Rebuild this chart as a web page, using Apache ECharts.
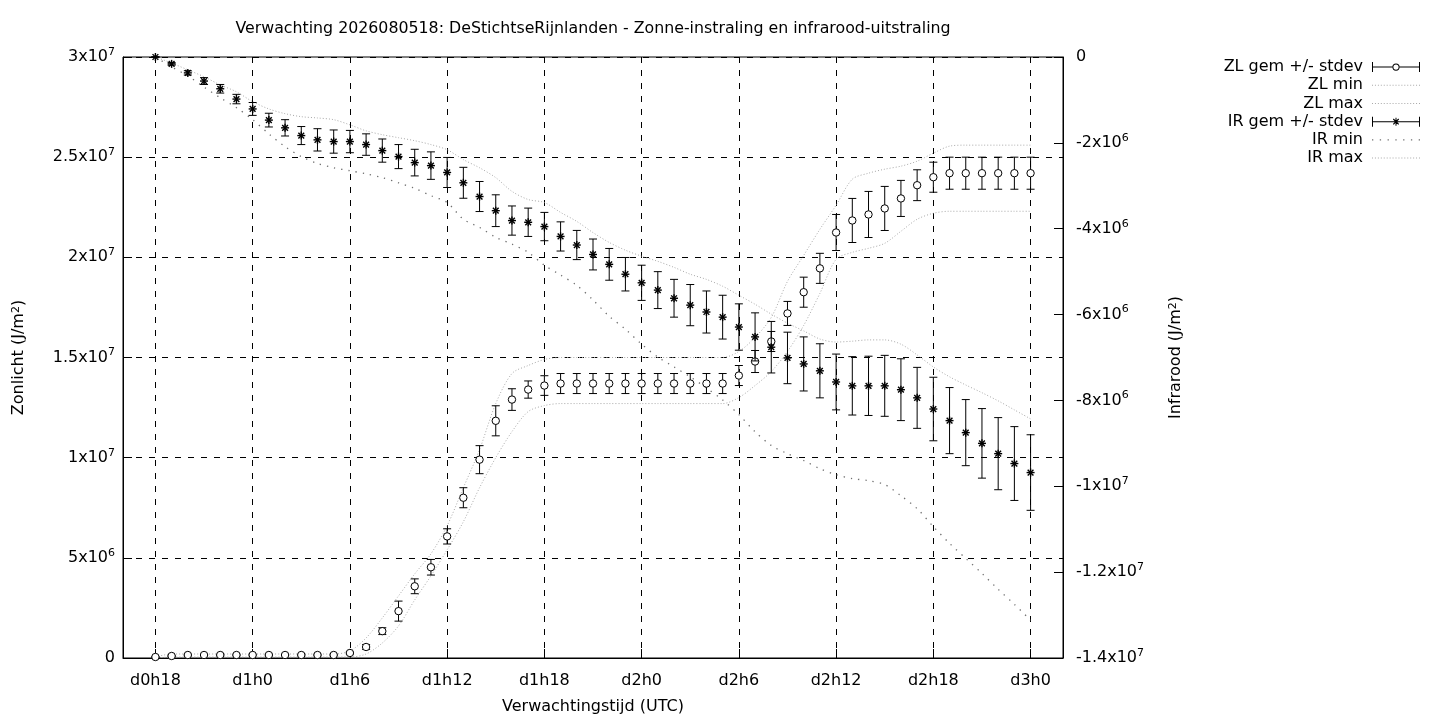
<!DOCTYPE html>
<html>
<head>
<meta charset="utf-8">
<title>Zonne-instraling en infrarood-uitstraling</title>
<script src="https://cdn.jsdelivr.net/npm/echarts@6.0.0/dist/echarts.min.js"></script>
<style>
  html, body { margin: 0; padding: 0; background: #fff; }
  #main { width: 1440px; height: 720px; }
</style>
</head>
<body>
<div id="main"></div>
<script>
// Forecast run 2026080518, hourly values; axis values are in units of 1e6 J/m2
const hours = [
  "d0h16", "d0h17", "d0h18", "d0h19", "d0h20", "d0h21", "d0h22", "d0h23",
  "d1h0", "d1h1", "d1h2", "d1h3", "d1h4", "d1h5", "d1h6", "d1h7", "d1h8", "d1h9", "d1h10", "d1h11",
  "d1h12", "d1h13", "d1h14", "d1h15", "d1h16", "d1h17", "d1h18", "d1h19", "d1h20", "d1h21", "d1h22", "d1h23",
  "d2h0", "d2h1", "d2h2", "d2h3", "d2h4", "d2h5", "d2h6", "d2h7", "d2h8", "d2h9", "d2h10", "d2h11",
  "d2h12", "d2h13", "d2h14", "d2h15", "d2h16", "d2h17", "d2h18", "d2h19", "d2h20", "d2h21", "d2h22", "d2h23",
  "d3h0", "d3h1", "d3h2",
];
const firstHour = "d0h18"; // first forecast step

// Zonlicht (left axis)
const zlMean = [
  0.05, 0.1, 0.15, 0.15, 0.15, 0.15, 0.15, 0.15, 0.15, 0.15, 0.15, 0.15,
  0.25, 0.55, 1.34, 2.34, 3.58, 4.53, 6.07, 8.0, 9.9, 11.84, 12.9, 13.4, 13.6, 13.7,
  13.7, 13.7, 13.7, 13.7, 13.7, 13.7, 13.7, 13.7, 13.7, 13.7,
  14.1, 14.8, 15.8, 17.2, 18.26, 19.45, 21.24, 21.84, 22.14, 22.44, 22.94, 23.6, 24.0,
  24.2, 24.2, 24.2, 24.2, 24.2, 24.2,
];
const zlSd = [
  0.02, 0.03, 0.04, 0.04, 0.04, 0.04, 0.04, 0.04, 0.04, 0.04, 0.04, 0.04,
  0.06, 0.12, 0.17, 0.5, 0.37, 0.39, 0.38, 0.5, 0.7, 0.75, 0.54, 0.43, 0.49, 0.5,
  0.5, 0.5, 0.5, 0.5, 0.5, 0.5, 0.5, 0.5, 0.5, 0.5,
  0.5, 0.55, 0.5, 0.6, 0.75, 0.75, 0.9, 1.1, 1.15, 1.1, 0.9, 0.77, 0.75,
  0.8, 0.8, 0.8, 0.8, 0.8, 0.8,
];
const zlMin = [
  0.0, 0.05, 0.05, 0.05, 0.05, 0.05, 0.05, 0.05, 0.05, 0.05, 0.05, 0.05,
  0.05, 0.2, 0.75, 1.6, 2.9, 4.1, 5.4, 6.8, 8.5, 10.0, 11.3, 12.3, 12.6, 12.7,
  12.7, 12.7, 12.7, 12.7, 12.7, 12.7, 12.7, 12.7, 12.7, 12.7,
  13.0, 13.6, 14.3, 15.3, 16.6, 18.2, 19.9, 20.25, 20.45, 20.7, 21.3, 21.9, 22.2,
  22.3, 22.3, 22.3, 22.3, 22.3, 22.3,
];
const zlMax = [
  0.05, 0.2, 0.2, 0.2, 0.2, 0.2, 0.2, 0.2, 0.2, 0.2, 0.2, 0.2,
  0.35, 1.0, 2.0, 3.1, 4.2, 5.2, 6.6, 8.5, 10.4, 12.7, 14.2, 14.6, 14.9, 15.0,
  15.0, 15.0, 15.0, 15.0, 15.0, 15.0, 15.0, 15.0, 15.0, 15.0,
  15.3, 16.0, 17.0, 18.8, 20.1, 21.4, 22.6, 23.9, 24.2, 24.4, 24.55, 24.8, 25.2,
  25.55, 25.6, 25.6, 25.6, 25.6, 25.6,
];

// Infrarood (right axis)
const irMean = [
  0, -0.16, -0.37, -0.56, -0.74, -0.98, -1.21, -1.47, -1.65, -1.83, -1.93, -1.97,
  -1.97, -2.04, -2.18, -2.32, -2.46, -2.53, -2.69, -2.93, -3.25, -3.58, -3.81, -3.85,
  -3.95, -4.18, -4.38, -4.6, -4.83, -5.06, -5.26, -5.43, -5.62, -5.78, -5.94, -6.06,
  -6.29, -6.52, -6.76, -7.01, -7.15, -7.31, -7.57, -7.66, -7.66, -7.66, -7.75, -7.94,
  -8.2, -8.47, -8.75, -9.0, -9.24, -9.47, -9.68,
];
const irSd = [
  0, 0.03, 0.05, 0.08, 0.1, 0.11, 0.15, 0.16, 0.19, 0.21, 0.26, 0.27,
  0.26, 0.25, 0.27, 0.28, 0.31, 0.32, 0.35, 0.36, 0.35, 0.37, 0.34, 0.33,
  0.33, 0.34, 0.34, 0.36, 0.37, 0.39, 0.41, 0.43, 0.44, 0.48, 0.49, 0.51,
  0.54, 0.56, 0.6, 0.6, 0.63, 0.63, 0.65, 0.68, 0.69, 0.71, 0.72, 0.71,
  0.74, 0.77, 0.77, 0.81, 0.84, 0.86, 0.88,
];
const irMin = [
  0, -0.23, -0.44, -0.7, -0.95, -1.18, -1.46, -1.79, -2.09, -2.32, -2.48, -2.58,
  -2.65, -2.72, -2.81, -2.93, -3.06, -3.23, -3.39, -3.78, -3.97, -4.2, -4.36, -4.55,
  -4.85, -5.08, -5.32, -5.66, -6.04, -6.34, -6.69, -6.99, -7.22, -7.45, -7.71, -7.99,
  -8.33, -8.73, -9.05, -9.24, -9.4, -9.59, -9.73, -9.82, -9.87, -9.96, -10.22, -10.52,
  -10.94, -11.33, -11.68, -12.03, -12.4, -12.75, -13.12,
];
const irMax = [
  0, -0.14, -0.3, -0.46, -0.65, -0.81, -1.04, -1.21, -1.32, -1.39, -1.42, -1.46,
  -1.58, -1.72, -1.81, -1.88, -1.95, -2.04, -2.16, -2.39, -2.58, -2.81, -3.13, -3.32,
  -3.39, -3.62, -3.83, -4.09, -4.32, -4.5, -4.64, -4.76, -4.9, -5.06, -5.18, -5.34,
  -5.55, -5.76, -5.99, -6.2, -6.38, -6.57, -6.64, -6.62, -6.59, -6.59, -6.69, -6.94,
  -7.22, -7.45, -7.64, -7.82, -8.01, -8.22, -8.43,
];

const FONT = "DejaVu Sans";
const FS = 16;
const LIGHT = "#a9a9a9";
const DARK = "#6f6f6f";
const offset = hours.indexOf(firstHour);

function withHour(values) {
  return values.map((v, i) => [i + offset, v]);
}
function withSd(means, sds) {
  return means.map((m, i) => [i + offset, m, sds[i]]);
}

// "3x10^7" style labels, values are in 1e6 units
function sci(v) {
  if (Math.abs(v) < 1e-9) return "{b|0}";
  const val = v * 1e6;
  const exp = Math.floor(Math.log10(Math.abs(val)) + 1e-9);
  const mant = +(val / Math.pow(10, exp)).toFixed(2);
  return "{b|" + mant + "x10}{s|" + exp + "}";
}
const supStyle = { fontFamily: FONT, fontSize: 11, color: "#000", verticalAlign: "top", lineHeight: 11 };
const sciRich = {
  b: { fontFamily: FONT, fontSize: FS, color: "#000", lineHeight: 21 },
  s: supStyle,
};

// show labels, ticks and grid every 6 hours starting at d0h18
function everySix(idx) {
  return idx >= offset && (idx - offset) % 6 === 0;
}

function errorBar(marker) {
  return function (params, api) {
    const x = api.value(0);
    const mean = api.value(1);
    const sd = api.value(2);
    const c = api.coord([x, mean]);
    const hi = api.coord([x, mean + sd]);
    const lo = api.coord([x, mean - sd]);
    const cap = 4;
    const ls = { stroke: "#000", lineWidth: 1 };
    const kids = [
      { type: "line", shape: { x1: c[0], y1: hi[1], x2: c[0], y2: lo[1] }, style: ls },
      { type: "line", shape: { x1: c[0] - cap, y1: hi[1], x2: c[0] + cap, y2: hi[1] }, style: ls },
      { type: "line", shape: { x1: c[0] - cap, y1: lo[1], x2: c[0] + cap, y2: lo[1] }, style: ls },
    ];
    if (marker === "circle") {
      kids.push({
        type: "circle",
        shape: { cx: c[0], cy: c[1], r: 3.7 },
        style: { fill: "#fff", stroke: "#000", lineWidth: 1 },
      });
    } else {
      const r = 4, d = r * 0.72;
      const ss = { stroke: "#000", lineWidth: 1.4 };
      [[-r, 0, r, 0], [0, -r, 0, r], [-d, -d, d, d], [-d, d, d, -d]].forEach((s) => {
        kids.push({
          type: "line",
          shape: { x1: c[0] + s[0], y1: c[1] + s[1], x2: c[0] + s[2], y2: c[1] + s[3] },
          style: ss,
        });
      });
    }
    return { type: "group", children: kids };
  };
}

// legend icons drawn as filled shapes (48 wide)
const iconCircleBar =
  "path://M0 0H1V10H0Z M47 0H48V10H47Z M1 4.5H20.4V5.5H1Z M27.6 4.5H47V5.5H27.6Z " +
  "M27.6 5A3.6 3.6 0 1 1 20.4 5A3.6 3.6 0 1 1 27.6 5Z M26.6 5A2.6 2.6 0 1 0 21.4 5A2.6 2.6 0 1 0 26.6 5Z";
const iconStarBar =
  "path://M0 0H1V10H0Z M47 0H48V10H47Z M1 4.5H47V5.5H1Z M23.5 1H24.5V9H23.5Z " +
  "M20.9 2.7L21.7 1.9L27.1 7.3L26.3 8.1Z M26.3 1.9L27.1 2.7L21.7 8.1L20.9 7.3Z";
function dotIcon(count, size) {
  const step = (48 - size) / (count - 1);
  let p = "path://";
  for (let k = 0; k < count; k++) {
    const x0 = (k * step).toFixed(2);
    const x1 = (k * step + size).toFixed(2);
    p += "M" + x0 + " 0H" + x1 + "V" + size + "H" + x0 + "Z ";
  }
  return p;
}
const iconFineDots = dotIcon(17, 1);
const iconWideDots = dotIcon(7, 1.3);

const chart = echarts.init(document.getElementById("main"));

const option = {
  backgroundColor: "#fff",
  animation: false,
  title: {
    text: "Verwachting 2026080518: DeStichtseRijnlanden - Zonne-instraling en infrarood-uitstraling",
    left: 593,
    top: 21,
    padding: 0,
    textAlign: "center",
    textStyle: { fontFamily: FONT, fontSize: 15.8, fontWeight: "normal", color: "#000" },
  },
  legend: {
    orient: "vertical",
    right: 20,
    top: 58,
    padding: 0,
    align: "right",
    itemWidth: 48,
    itemHeight: 10,
    itemGap: 0,
    selectedMode: false,
    textStyle: { fontFamily: FONT, fontSize: FS, color: "#000", lineHeight: 18.2, padding: [0, 4, 0, 0] },
    data: [
      { name: "ZL gem +/- stdev", icon: iconCircleBar },
      { name: "ZL min", icon: iconFineDots },
      { name: "ZL max", icon: iconFineDots },
      { name: "IR gem +/- stdev", icon: iconStarBar },
      { name: "IR min", icon: iconWideDots },
      { name: "IR max", icon: iconFineDots },
    ],
  },
  grid: {
    left: 123,
    right: 377,
    top: 57,
    bottom: 60,
    show: true,
    borderColor: "#000",
    borderWidth: 1,
    backgroundColor: "transparent",
  },
  xAxis: {
    type: "category",
    data: hours,
    boundaryGap: false,
    name: "Verwachtingstijd (UTC)",
    nameLocation: "middle",
    nameGap: 41,
    nameTextStyle: { fontFamily: FONT, fontSize: FS, color: "#000" },
    axisLine: { show: true, lineStyle: { color: "#000", width: 1 } },
    axisTick: { show: true, inside: true, length: 9, interval: everySix, lineStyle: { color: "#000" } },
    axisLabel: { interval: everySix, margin: 15, fontFamily: FONT, fontSize: FS, color: "#000" },
    splitLine: { show: true, interval: everySix, lineStyle: { color: "#000", type: [6, 7], width: 1 } },
  },
  yAxis: [
    {
      type: "value",
      position: "left",
      min: 0,
      max: 30,
      interval: 5,
      name: "Zonlicht (J/m{s|2})",
      nameLocation: "middle",
      nameRotate: 90,
      nameGap: 96,
      nameTextStyle: { fontFamily: FONT, fontSize: FS, color: "#000", rich: { s: supStyle } },
      axisLine: { show: true, lineStyle: { color: "#000" } },
      axisTick: { show: true, inside: true, length: 9, lineStyle: { color: "#000" } },
      axisLabel: { formatter: sci, margin: 8, rich: sciRich },
      splitLine: { show: true, lineStyle: { color: "#000", type: [6, 7], width: 1 } },
    },
    {
      type: "value",
      position: "right",
      min: -14,
      max: 0,
      interval: 2,
      name: "Infrarood (J/m{s|2})",
      nameLocation: "middle",
      nameRotate: 90,
      nameGap: 105,
      nameTextStyle: { fontFamily: FONT, fontSize: FS, color: "#000", rich: { s: supStyle } },
      axisLine: { show: true, lineStyle: { color: "#000" } },
      axisTick: { show: true, inside: true, length: 9, lineStyle: { color: "#000" } },
      axisLabel: { formatter: sci, margin: 13, rich: sciRich },
      splitLine: { show: false },
    },
  ],
  series: [
    {
      name: "ZL gem +/- stdev",
      type: "custom",
      yAxisIndex: 0,
      renderItem: errorBar("circle"),
      itemStyle: { color: "#000" },
      encode: { x: 0, y: 1 },
      data: withSd(zlMean, zlSd),
      z: 4,
    },
    {
      name: "ZL min",
      type: "line",
      yAxisIndex: 0,
      symbol: "none",
      smooth: 0.3,
      lineStyle: { color: LIGHT, width: 1, type: [1, 2] },
      itemStyle: { color: LIGHT },
      data: withHour(zlMin),
      z: 3,
    },
    {
      name: "ZL max",
      type: "line",
      yAxisIndex: 0,
      symbol: "none",
      smooth: 0.3,
      lineStyle: { color: LIGHT, width: 1, type: [1, 2] },
      itemStyle: { color: LIGHT },
      data: withHour(zlMax),
      z: 3,
    },
    {
      name: "IR gem +/- stdev",
      type: "custom",
      yAxisIndex: 1,
      renderItem: errorBar("star"),
      itemStyle: { color: "#000" },
      encode: { x: 0, y: 1 },
      data: withSd(irMean, irSd),
      z: 4,
    },
    {
      name: "IR min",
      type: "line",
      yAxisIndex: 1,
      symbol: "none",
      smooth: 0.3,
      lineStyle: { color: DARK, width: 1.3, type: [1.3, 6] },
      itemStyle: { color: DARK },
      data: withHour(irMin),
      z: 3,
    },
    {
      name: "IR max",
      type: "line",
      yAxisIndex: 1,
      symbol: "none",
      smooth: 0.3,
      lineStyle: { color: LIGHT, width: 1, type: [1, 2] },
      itemStyle: { color: LIGHT },
      data: withHour(irMax),
      z: 3,
    },
  ],
};

chart.setOption(option);
</script>
</body>
</html>
